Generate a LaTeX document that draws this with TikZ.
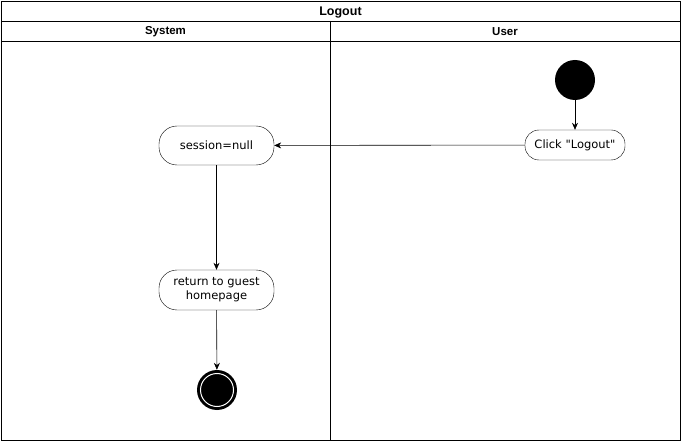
\documentclass[tikz,border=0pt]{standalone}
\usepackage{fontspec}
\setmainfont{DejaVu Sans}
\newfontfamily\hdr{Liberation Sans}
\usetikzlibrary{arrows.meta}
\begin{document}
\begin{tikzpicture}[x=1pt,y=-1pt,
  act/.style={draw,rounded corners=18pt,minimum width=115pt,minimum height=39pt,align=center,font=\fontsize{11.5pt}{14pt}\selectfont,inner sep=2pt},
  arr/.style={draw,-{Stealth[length=7pt,width=6pt]},line width=0.6pt},
  lane/.style={draw,line width=0.6pt},
  hd/.style={font=\hdr\bfseries\fontsize{11.5pt}{13pt}\selectfont}]
\useasboundingbox (0,0) rectangle (681,441);
\draw[lane] (1,1) rectangle (680,440);
\draw[lane] (1,21) -- (680,21);
\draw[lane] (1,41) -- (680,41);
\draw[lane] (330,21) -- (330,440);
\node[hd,font=\hdr\bfseries\fontsize{12.5pt}{14pt}\selectfont] (title) at (340.5,12.5) {Logout};
\node[hd] (sys) at (165.5,32) {System};
\node[hd] (usr) at (505,32) {User};
\node[circle,fill=black,minimum size=40pt,inner sep=0] (start) at (575,80) {};
\node[act,minimum width=100pt,minimum height=30pt,rounded corners=14pt] (click) at (575,145) {\raisebox{-1pt}{Click \textquotedbl Logout\textquotedbl}};
\node[act] (sess) at (216.5,145.5) {\raisebox{-1pt}{session=null}};
\node[act,minimum height=40pt] (ret) at (216.5,290) {return to guest\\homepage};
\node[circle,fill=black,minimum size=40pt,inner sep=0] (end) at (217,390) {};
\draw[white,line width=1pt] (end.center) circle (16.5pt);
\draw[arr] (start) -- (click);
\draw[arr] (click) -- (sess);
\draw[arr] (sess) -- (ret);
\draw[arr] (ret) -- (end);
\end{tikzpicture}
\end{document}
